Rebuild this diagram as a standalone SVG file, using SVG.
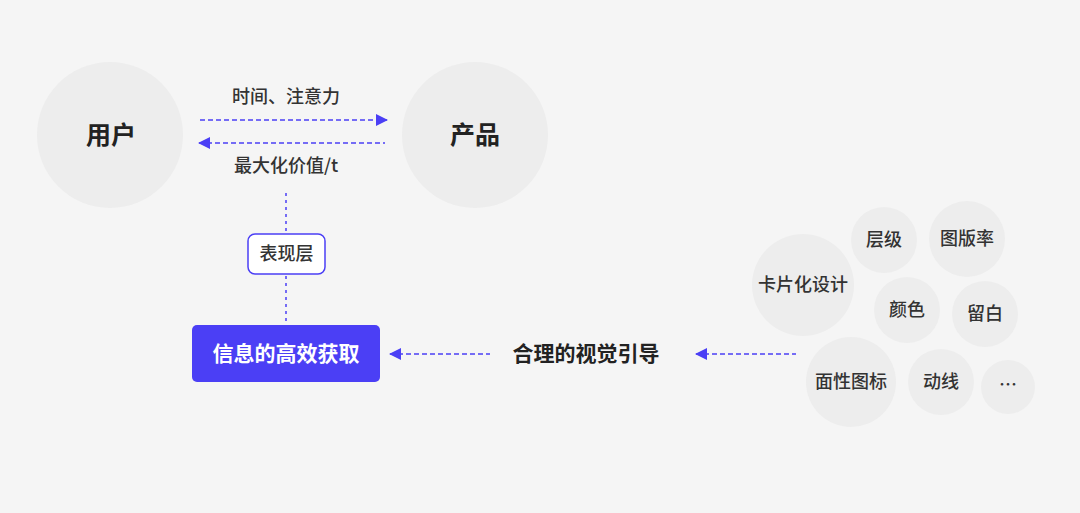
<svg xmlns="http://www.w3.org/2000/svg" width="1080" height="513" viewBox="0 0 1080 513">
<defs>
<style>
.c{fill:#ededed}
.t{font-family:"Noto Sans CJK SC","Noto Sans",sans-serif;fill:#333;text-anchor:middle;dominant-baseline:central}
.big{font-size:25px;font-weight:700;fill:#222}
.lab{font-size:18px;font-weight:500}
.sm{font-size:18px;font-weight:500}
.dash{stroke:#4b3ff5;stroke-width:1.5;stroke-dasharray:5 3;fill:none}
.dot{stroke:#4b3ff5;stroke-width:1.5;stroke-dasharray:3 4;fill:none}
</style>
<marker id="ah" viewBox="0 0 12 12" refX="11" refY="6" markerWidth="12" markerHeight="12" markerUnits="userSpaceOnUse" orient="auto-start-reverse">
<path d="M0,0 L12,6 L0,12 Z" fill="#4b3ff5"/>
</marker>
</defs>
<rect width="1080" height="513" fill="#f5f5f5"/>
<g id="user"><circle class="c" cx="110" cy="135" r="73"/><text class="t big" x="111" y="133">用户</text></g>
<g id="product"><circle class="c" cx="475" cy="135" r="73"/><text class="t big" x="475" y="133">产品</text></g>
<g id="connectors">
<line class="dash" x1="200" y1="120" x2="387" y2="120" marker-end="url(#ah)"/>
<line class="dash" x1="199" y1="143" x2="385" y2="143" marker-start="url(#ah)"/>
<line class="dot" x1="286" y1="193" x2="286" y2="233"/>
<line class="dot" x1="286" y1="276" x2="286" y2="324"/>
<line class="dash" x1="390" y1="354" x2="490" y2="354" marker-start="url(#ah)"/>
<line class="dash" x1="696" y1="354" x2="796" y2="354" marker-start="url(#ah)"/>
</g>
<g id="lbl-top"><text class="t lab" x="286" y="95">时间、注意力</text></g>
<g id="lbl-bottom"><text class="t lab" x="286" y="164">最大化价值/t</text></g>
<g id="layer"><rect x="248" y="234" width="77" height="40" rx="7" fill="#fff" stroke="#4b3ff5" stroke-width="1.5"/><text class="t lab" x="286.5" y="252">表现层</text></g>
<g id="info"><rect x="192" y="325" width="188" height="57" rx="5" fill="#4b3ff5"/><text class="t" x="286" y="351.5" style="font-size:21px;font-weight:700;fill:#fff">信息的高效获取</text></g>
<g id="guide"><text class="t" x="586" y="352" style="font-size:21px;font-weight:700;fill:#222">合理的视觉引导</text></g>
<g id="card"><circle class="c" cx="803" cy="285" r="51"/><text class="t sm" x="803" y="283">卡片化设计</text></g>
<g id="level"><circle class="c" cx="884" cy="240" r="33"/><text class="t sm" x="884" y="238">层级</text></g>
<g id="ratio"><circle class="c" cx="967" cy="239" r="38"/><text class="t sm" x="967" y="237">图版率</text></g>
<g id="color"><circle class="c" cx="907" cy="310" r="33"/><text class="t sm" x="907" y="308">颜色</text></g>
<g id="white"><circle class="c" cx="985" cy="314" r="33"/><text class="t sm" x="985" y="312">留白</text></g>
<g id="icon"><circle class="c" cx="851" cy="382" r="45"/><text class="t sm" x="851" y="380">面性图标</text></g>
<g id="motion"><circle class="c" cx="941" cy="382" r="33"/><text class="t sm" x="941" y="380">动线</text></g>
<g id="more"><circle class="c" cx="1008" cy="387" r="27"/><text class="t sm" x="1008" y="383">…</text></g>
</svg>
